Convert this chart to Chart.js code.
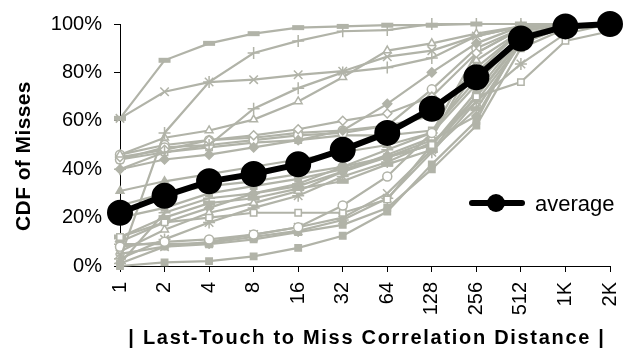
<!DOCTYPE html>
<html>
<head>
<meta charset="utf-8">
<script src="https://cdn.jsdelivr.net/npm/chart.js@4.4.1/dist/chart.umd.min.js"></script>
<style>
  html, body { margin: 0; padding: 0; background: #fff; }
  #wrap { width: 644px; height: 354px; position: relative; }
</style>
</head>
<body>
<div id="wrap"><canvas id="cdfChart"></canvas></div>
<script>
// distancias (categorías del eje x)
const distancias = ['1', '2', '4', '8', '16', '32', '64', '128', '256', '512', '1K', '2K'];
const marcasY = [0, 20, 40, 60, 80, 100];
const tituloX = '| Last-Touch to Miss Correlation Distance |';
const tituloY = 'CDF of Misses';

// CDF media (%)
const promedio = [22, 29, 35, 38, 42, 48, 55, 65, 78, 94, 99, 100];

// CDF de cada benchmark (%), leídas a ojo
const bench01 = [61, 85, 92, 96, 98.5, 99, 99.5, 99.5, 100, 100, 100, 100];
const bench02 = [61, 72, 76, 77, 79, 80.5, 86.5, 89, 95, 99, 100, 100];
const bench03 = [3, 55, 76, 88, 93, 97, 97.5, 100, 100, 100, 100, 100];
const bench04 = [46, 53, 56, 60.5, 68, 78, 89, 92, 96, 99, 100, 100];
const bench05 = [40, 47, 50, 65, 73.5, 80, 82, 86, 95, 99, 100, 100];
const bench06 = [40, 44, 46, 49, 52, 56, 67, 80, 92, 99, 100, 100];
const bench07 = [45, 48, 52, 54, 56.5, 60, 63, 70, 88, 98, 100, 100];
const bench08 = [44, 49, 50, 52, 54, 55, 58, 73, 90, 98, 100, 100];
const bench09 = [8, 10, 11, 13, 16, 25, 37, 55, 75, 95, 100, 100];
const bench10 = [12, 18, 20, 22, 22, 22, 27.5, 50, 70, 76, 93, 97];
const bench11 = [0, 1.5, 2, 4, 7.5, 12.5, 22.5, 42, 60, 95, 99, 100];
const bench12 = [9, 9, 9.5, 12, 14.5, 19, 28, 47, 68, 83.5, 96, 100];
const bench13 = [5, 8, 10, 13, 16, 20, 30, 48, 70, 93, 99, 100];
const bench14 = [31, 35, 38, 41, 44, 47, 50, 55, 80, 97, 100, 100];
const bench15 = [20, 24, 30, 33, 36, 40, 45, 50, 72, 95, 100, 100];
const bench16 = [25, 30, 33, 35, 38, 41, 45, 50, 70, 94, 99, 100];
const bench17 = [12, 20, 26, 28, 32, 35, 42, 48, 65, 92, 99, 100];
const bench18 = [6, 15, 22, 26, 31, 39, 46, 53, 85, 97, 100, 100];
const bench19 = [1, 22, 28, 30, 34, 41, 48, 55, 88, 98, 100, 100];
const bench20 = [44, 47, 49, 51, 52, 54, 54, 56, 77, 96, 99, 100];
const bench21 = [3, 11, 18, 24, 29, 37, 43, 51, 68, 92, 99, 100];
const bench22 = [10, 18, 24, 30, 33, 39, 45, 52, 62, 93, 99, 100];
const bench23 = [46, 50, 52, 53, 55, 56, 58, 62, 82, 97, 100, 100];
const bench24 = [1, 8, 9, 11, 14, 17, 24, 40, 58, 90, 98, 99.5];

const GRIS = '#b1b3a8';
const FUENTE = '"Liberation Sans", Arial, sans-serif';

// [datos, estilo de marcador, relleno?]
const series = [
    [bench01, 'line', true], [bench02, 'crossRot', false], [bench03, 'cross', false],
    [bench04, 'triangle', false], [bench05, 'cross', false], [bench06, 'rectRot', true],
    [bench07, 'rectRot', false], [bench08, 'circle', false], [bench09, 'circle', false],
    [bench10, 'rect', false], [bench11, 'rect', true], [bench12, 'star', false],
    [bench13, 'crossRot', false], [bench14, 'triangle', true], [bench15, 'rect', true],
    [bench16, 'circle', true], [bench17, 'line', true], [bench18, 'triangle', false],
    [bench19, 'cross', false], [bench20, 'rect', false], [bench21, 'star', false],
    [bench22, 'rectRot', true], [bench23, 'circle', false], [bench24, 'rect', true]
];

function datasetGris(s, i) {
    const [datos, estilo, relleno] = s;
    const esLinea = estilo === 'line';
    const abierto = ['cross', 'crossRot', 'star'].includes(estilo);
    return {
        label: 'bench' + (i + 1),
        data: datos,
        borderColor: GRIS,
        borderWidth: 2.2,
        pointStyle: estilo,
        pointRadius: esLinea ? 6 : (abierto ? 6 : 4.5),
        pointBorderWidth: esLinea ? 5 : 1.5,
        pointBackgroundColor: relleno ? GRIS : '#ffffff',
        pointBorderColor: GRIS,
        tension: 0,
        clip: false,
        order: 1
    };
}

// leyenda de "average" y títulos de los ejes (con algo de espaciado entre letras)
const extrasDibujo = {
    id: 'extrasDibujo',
    afterDraw(chart) {
        const ctx = chart.ctx;
        const media = chart.data.datasets[0];
        ctx.save();
        ctx.strokeStyle = media.borderColor;
        ctx.lineWidth = media.borderWidth;
        ctx.lineCap = 'round';
        ctx.beginPath();
        ctx.moveTo(472, 203);
        ctx.lineTo(522, 203);
        ctx.stroke();
        ctx.fillStyle = media.pointBackgroundColor;
        ctx.beginPath();
        ctx.arc(496, 203, 9, 0, Math.PI * 2);
        ctx.fill();
        ctx.fillStyle = '#000';
        ctx.font = '22px ' + FUENTE;
        ctx.textBaseline = 'middle';
        ctx.textAlign = 'left';
        ctx.fillText(media.label, 535, 205);

        ctx.textAlign = 'center';
        ctx.font = 'bold 20px ' + FUENTE;
        ctx.letterSpacing = '1.7px';
        ctx.fillText(tituloX, 367, 338);

        ctx.font = 'bold 21px ' + FUENTE;
        ctx.letterSpacing = '0.4px';
        ctx.translate(24, 156);
        ctx.rotate(-Math.PI / 2);
        ctx.fillText(tituloY, 0, 0);
        ctx.restore();
    }
};

document.addEventListener('DOMContentLoaded', function() {
    const ctx = document.getElementById('cdfChart').getContext('2d');

    new Chart(ctx, {
        type: 'line',
        data: {
            labels: distancias,
            datasets: [{
                label: 'average',
                data: promedio,
                borderColor: '#000',
                borderWidth: 6,
                pointStyle: 'circle',
                pointRadius: 10,
                pointBackgroundColor: '#000',
                pointBorderColor: '#000',
                tension: 0,
                clip: false,
                order: 0
            }].concat(series.map(datasetGris))
        },
        options: {
            responsive: true,
            maintainAspectRatio: false,
            animation: false,
            events: [],
            layout: { padding: { left: 0, top: 21, right: 15, bottom: 0 } },
            plugins: { legend: { display: false }, tooltip: { enabled: false } },
            scales: {
                x: {
                    offset: false,
                    afterFit: (s) => { s.height = 88; },
                    grid: { drawOnChartArea: false, tickLength: 6, tickColor: '#000', offset: false },
                    border: { color: '#000', width: 1 },
                    ticks: {
                        color: '#000', font: { family: FUENTE, size: 20 },
                        maxRotation: 90, minRotation: 90, padding: 10, autoSkip: false
                    }
                },
                y: {
                    min: 0,
                    max: 100,
                    afterFit: (s) => { s.width = 120; },
                    afterBuildTicks: (s) => { s.ticks = marcasY.map(v => ({ value: v })); },
                    grid: { drawOnChartArea: false, tickLength: 6, tickColor: '#000' },
                    border: { color: '#000', width: 1 },
                    ticks: {
                        color: '#000', font: { family: FUENTE, size: 20 }, padding: 12,
                        callback: (v) => v + '%'
                    }
                }
            }
        },
        plugins: [extrasDibujo]
    });
});
</script>
</body>
</html>
